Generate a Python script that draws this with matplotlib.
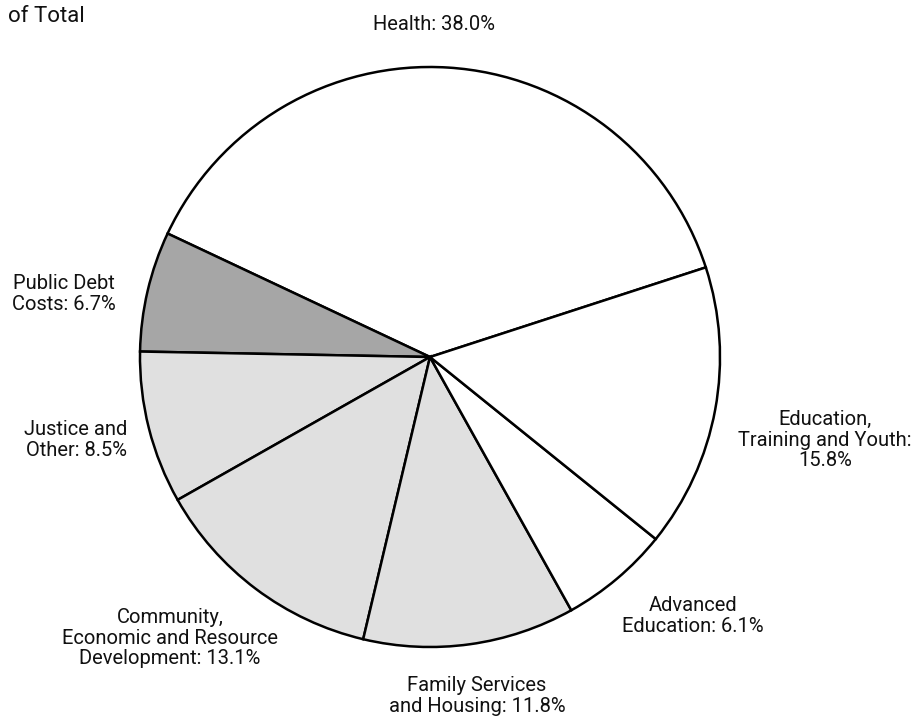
import matplotlib
matplotlib.use('Agg')
import matplotlib.pyplot as plt

# slices, counter-clockwise starting at the Health/Education boundary
names = ["Health", "Public Debt\nCosts", "Justice and\nOther",
         "Community,\nEconomic and Resource\nDevelopment",
         "Family Services\nand Housing", "Advanced\nEducation",
         "Education,\nTraining and Youth:\n"]
shares = [38.0, 6.7, 8.5, 13.1, 11.8, 6.1, 15.8]
colors = ["white", "#a6a6a6", "#e0e0e0", "#e0e0e0", "#e0e0e0", "white", "white"]

# label centres in pixel coords (x, y from top)
label_pos = [(434, 24), (64, 294), (76, 440), (170, 638), (477, 696), (693, 616), (825, 440)]

plt.rcParams['font.family'] = ['Roboto', 'DejaVu Sans']

H = 717
fig = plt.figure(figsize=(9.18, 7.17), dpi=100)
ax = fig.add_axes([0, 0, 1, 1])

ax.pie(shares, colors=colors, startangle=18, counterclock=True,
       center=(430, H - 357), radius=290, frame=True,
       wedgeprops=dict(edgecolor='black', linewidth=1.8))
ax.set_xlim(0, 918)
ax.set_ylim(0, H)
ax.set_aspect('equal')
ax.axis('off')

for name, val, (x, y) in zip(names, shares, label_pos):
    sep = "" if name.endswith("\n") else ": "
    ax.text(x, H - y, name + sep + "%.1f%%" % val, ha='center', va='center',
            fontsize=14.5, linespacing=1.1, color='#111111')

ax.text(8, H - 22, "of Total", ha='left', va='baseline', fontsize=16, color='#111111')

fig.savefig("out.png", dpi=100)
